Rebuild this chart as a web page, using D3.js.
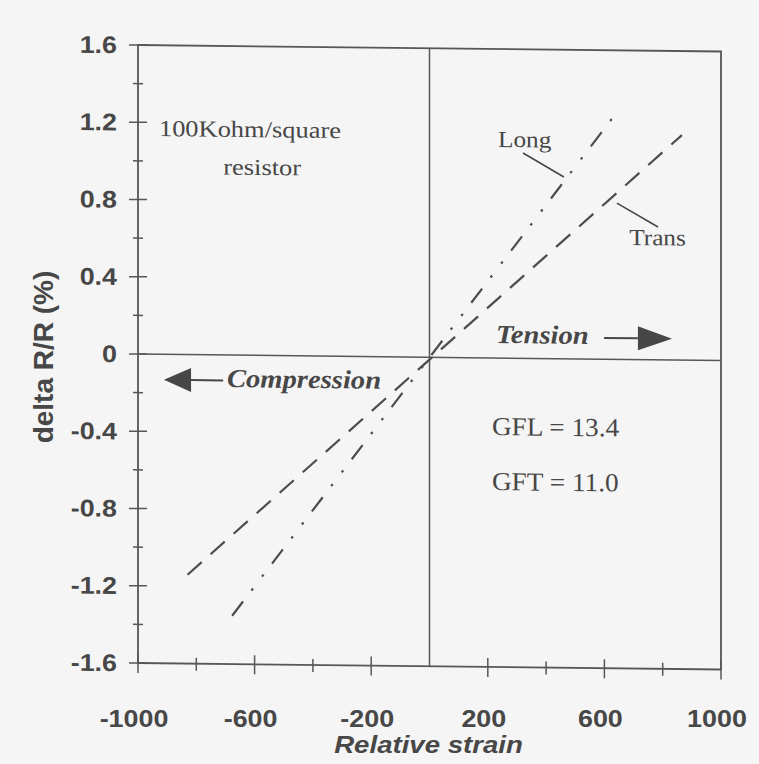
<!DOCTYPE html>
<html>
<head>
<meta charset="utf-8">
<script src="https://cdn.jsdelivr.net/npm/d3@7"></script>
<style>
  body { margin: 0; background: #f5f5f5; }
  svg { display: block; }
</style>
</head>
<body>
<div id="chart"></div>
<script>
// data
var yMajor = [-1.6, -1.2, -0.8, -0.4, 0, 0.4, 0.8, 1.2, 1.6];
var yMinor = [-1.4, -1.0, -0.6, -0.2, 0.2, 0.6, 1.0, 1.4];
var yLabels = ["-1.6", "-1.2", "-0.8", "-0.4", "0", "0.4", "0.8", "1.2", "1.6"];
var xMajor = [-1000, -600, -200, 200, 600, 1000];
var xMinor = [-800, -400, 400, 800];
var xLabels = ["-1000", "-600", "-200", "200", "600", "1000"];

// fitted lines, end points
var longStrain = [-677, 643];
var longDR = [-1.35, 1.28];
var transStrain = [-830, 866];
var transDR = [-1.14, 1.165];

var width = 759, height = 764;
var ink = "#474747";
var axisInk = "#575757";

var svg = d3.select("#chart").append("svg")
    .attr("width", width)
    .attr("height", height);

svg.append("rect").attr("width", width).attr("height", height).attr("fill", "#f5f5f5");

// the scan is slightly sheared, so the plot is too
var g = svg.append("g")
    .attr("transform", "translate(138,0) skewY(0.64) translate(-138,0)");

var x = d3.scaleLinear().domain([-1000, 1000]).range([138, 721]);
var y = d3.scaleLinear().domain([-1.6, 1.6]).range([663, 45]);

// frame
g.append("rect")
    .attr("x", x(-1000)).attr("y", y(1.6))
    .attr("width", x(1000) - x(-1000)).attr("height", y(-1.6) - y(1.6))
    .attr("fill", "none").attr("stroke", axisInk).attr("stroke-width", 1.8);

// zero lines
g.append("line")
    .attr("x1", x(-1000)).attr("x2", x(1000)).attr("y1", y(0)).attr("y2", y(0))
    .attr("stroke", axisInk).attr("stroke-width", 1.5);
g.append("line")
    .attr("x1", x(0)).attr("x2", x(0)).attr("y1", y(1.6)).attr("y2", y(-1.6))
    .attr("stroke", axisInk).attr("stroke-width", 1.5);

// y ticks, crossing the axis
g.selectAll(".ymaj").data(yMajor).enter().append("line")
    .attr("x1", x(-1000) - 9).attr("x2", x(-1000) + 9)
    .attr("y1", function (d) { return y(d); }).attr("y2", function (d) { return y(d); })
    .attr("stroke", axisInk).attr("stroke-width", 1.5);
g.selectAll(".ymin").data(yMinor).enter().append("line")
    .attr("x1", x(-1000) - 5).attr("x2", x(-1000) + 5)
    .attr("y1", function (d) { return y(d); }).attr("y2", function (d) { return y(d); })
    .attr("stroke", axisInk).attr("stroke-width", 1.5);

// x ticks
g.selectAll(".xmaj").data(xMajor).enter().append("line")
    .attr("x1", function (d) { return x(d); }).attr("x2", function (d) { return x(d); })
    .attr("y1", y(-1.6) - 9).attr("y2", y(-1.6) + 10)
    .attr("stroke", axisInk).attr("stroke-width", 1.5);
g.selectAll(".xmin").data(xMinor).enter().append("line")
    .attr("x1", function (d) { return x(d); }).attr("x2", function (d) { return x(d); })
    .attr("y1", y(-1.6) - 6).attr("y2", y(-1.6) + 7)
    .attr("stroke", axisInk).attr("stroke-width", 1.5);

// tick labels
var sans = "'Liberation Sans', Arial, sans-serif";
var serif = "'Liberation Serif', 'Times New Roman', serif";

g.selectAll(".ylab").data(yMajor).enter().append("text")
    .attr("transform", function (d) { return "translate(" + (x(-1000) - 21) + "," + (y(d) + 8.5) + ") scale(1.12,1)"; })
    .attr("text-anchor", "end")
    .style("font-family", sans).style("font-weight", "bold").style("font-size", "24px")
    .attr("fill", ink)
    .text(function (d, i) { return yLabels[i]; });

svg.selectAll(".xlab").data(xMajor).enter().append("text")
    .attr("transform", function (d) { return "translate(" + (x(d) - 4) + ",727) scale(1.12,1)"; })
    .attr("text-anchor", "middle")
    .style("font-family", sans).style("font-weight", "bold").style("font-size", "24px")
    .attr("fill", ink)
    .text(function (d, i) { return xLabels[i]; });

// axis titles
svg.append("text")
    .attr("transform", "translate(53," + 357 + ") rotate(-90)")
    .attr("text-anchor", "middle")
    .style("font-family", sans).style("font-weight", "bold").style("font-size", "28px")
    .attr("fill", ink)
    .text("delta R/R (%)");

svg.append("text")
    .attr("transform", "translate(" + (x(0) - 1) + ",753) scale(1.2,1)")
    .attr("text-anchor", "middle")
    .style("font-family", sans).style("font-weight", "bold").style("font-style", "italic").style("font-size", "23px")
    .attr("fill", ink)
    .text("Relative strain");

// the two fitted lines
var line = d3.line()
    .x(function (d) { return x(d[0]); })
    .y(function (d) { return y(d[1]); });

g.append("path")
    .datum(d3.zip(longStrain, longDR))
    .attr("d", line)
    .attr("fill", "none").attr("stroke", "#4c4c4c").attr("stroke-width", 2.2)
    .attr("stroke-dasharray", "18,14,2.5,15,2.5,14");

g.append("path")
    .datum(d3.zip(transStrain, transDR))
    .attr("d", line)
    .attr("fill", "none").attr("stroke", "#4c4c4c").attr("stroke-width", 2.2)
    .attr("stroke-dasharray", "19,12");

// annotations, placed in data units
function note(tx, ty, str, size, anchor, style, sx) {
    return g.append("text")
        .attr("transform", "translate(" + x(tx) + "," + y(ty) + ") scale(" + sx + ",1)")
        .attr("text-anchor", anchor)
        .style("font-family", serif).style("font-size", size + "px")
        .style("font-weight", style ? "bold" : "normal")
        .style("font-style", style ? "italic" : "normal")
        .attr("fill", ink)
        .text(str);
}

note(-616, 1.13, "100Kohm/square", 23, "middle", false, 1.15);
note(-574, 0.934, "resistor", 23, "middle", false, 1.15);
note(235, 1.093, "Long", 23, "start", false, 1.1);
note(685, 0.593, "Trans", 23, "start", false, 1.1);
note(228, 0.078, "Tension", 26, "start", true, 1.1);
note(-695, -0.166, "Compression", 26, "start", true, 1.1);
note(214, -0.399, "GFL = 13.4", 26, "start", false, 1.05);
note(214, -0.684, "GFT = 11.0", 26, "start", false, 1.05);

// leader lines
g.append("line")
    .attr("x1", x(321)).attr("y1", y(1.063)).attr("x2", x(461)).attr("y2", y(0.941))
    .attr("stroke", ink).attr("stroke-width", 1.6);
g.append("line")
    .attr("x1", x(643)).attr("y1", y(0.809)).attr("x2", x(784)).attr("y2", y(0.688))
    .attr("stroke", ink).attr("stroke-width", 1.6);

// arrows
function arrow(from, base, tip, at) {
    g.append("line")
        .attr("x1", x(from)).attr("x2", x(base)).attr("y1", y(at)).attr("y2", y(at))
        .attr("stroke", ink).attr("stroke-width", 2);
    g.append("path")
        .attr("d", "M" + x(tip) + "," + y(at) +
            "L" + x(base) + "," + (y(at) - 12) +
            "L" + x(base) + "," + (y(at) + 12) + "Z")
        .attr("fill", ink);
}
arrow(599, 715, 832, 0.110);
arrow(-708, -818, -911, -0.132);
</script>
</body>
</html>
